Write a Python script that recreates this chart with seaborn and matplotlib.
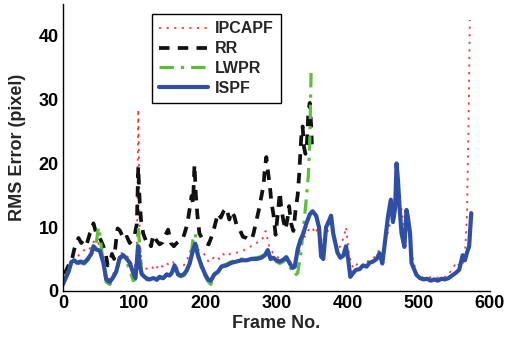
import matplotlib
matplotlib.use('Agg')
import matplotlib.pyplot as plt
import seaborn as sns

# Data (frame number, RMS error in pixels)
ispf_x = [0, 4, 8, 12, 16, 20, 25, 30, 35, 40, 43, 47, 52, 57, 61, 66, 70, 75, 80, 85,
          90, 94, 99, 102, 106, 108, 111, 117, 122, 127, 132, 136, 141, 146, 150, 153, 157, 162, 166, 170,
          174, 178, 183, 186, 190, 195, 200, 204, 208, 213, 218, 223, 230, 237, 244, 251, 258, 265, 272, 279,
          284, 288, 292, 296, 300, 305, 310, 314, 319, 323, 326, 330, 334, 338, 342, 347, 351, 356, 360, 363,
          366, 370, 374, 377, 380, 383, 386, 390, 394, 398, 401, 404, 408, 412, 417, 422, 427, 431, 436, 441,
          445, 449, 452, 457, 461, 464, 467, 469, 471, 473, 476, 478, 480, 483, 485, 488, 490, 494, 497, 502,
          507, 512, 517, 522, 527, 532, 537, 542, 547, 552, 557, 562, 565, 568, 571, 574]
ispf_y = [1.0, 2.0, 3.0, 4.5, 4.8, 4.4, 4.6, 4.4, 5.0, 5.8, 7.0, 6.5, 6.3, 4.4, 1.8, 1.4, 2.0, 3.0, 5.2, 5.6,
          5.0, 4.4, 2.8, 2.0, 7.0, 4.0, 2.6, 2.0, 1.8, 2.0, 1.8, 2.2, 2.0, 2.6, 2.4, 2.8, 4.0, 2.6, 2.4, 2.6,
          3.2, 4.2, 6.4, 7.4, 5.5, 3.9, 2.6, 1.8, 1.6, 2.6, 3.0, 3.8, 4.0, 4.4, 4.6, 4.8, 4.8, 5.0, 5.0, 5.2,
          5.6, 6.4, 5.0, 5.2, 4.8, 4.6, 4.9, 5.3, 4.3, 3.6, 3.8, 6.5, 8.0, 9.0, 10.5, 12.0, 12.5, 11.8, 10.0, 5.4,
          5.0, 10.0, 11.0, 11.8, 9.0, 7.5, 6.0, 5.2, 5.5, 7.0, 5.0, 2.2, 2.8, 3.3, 3.4, 4.0, 3.8, 4.4, 4.6, 5.0,
          5.9, 4.3, 7.0, 11.7, 14.3, 10.8, 13.0, 20.0, 17.4, 13.5, 9.0, 8.0, 6.9, 12.7, 11.5, 9.0, 4.4, 3.3, 2.5, 2.0,
          1.8, 1.9, 1.6, 1.8, 1.6, 1.9, 1.8, 2.0, 2.4, 2.8, 3.3, 5.6, 4.8, 6.0, 7.0, 12.2]

ipcapf_x = [0, 5, 10, 15, 20, 25, 30, 35, 40, 45, 50, 55, 60, 65, 70, 75, 80, 85, 90, 95,
            100, 104, 106, 107, 108, 111, 115, 120, 125, 130, 135, 140, 145, 150, 155, 160, 165, 170, 175, 180,
            185, 190, 195, 200, 205, 210, 215, 220, 225, 230, 235, 240, 245, 250, 255, 260, 265, 270, 275, 280,
            285, 290, 295, 300, 305, 310, 315, 320, 325, 330, 335, 340, 345, 350, 355, 360, 365, 370, 375, 380,
            385, 390, 395, 398, 402, 406, 410, 415, 420, 425, 430, 435, 440, 445, 450, 455, 460, 465, 469, 473,
            477, 481, 485, 488, 492, 497, 502, 510, 520, 530, 540, 548, 553, 558, 562, 565, 568, 570, 572]
ipcapf_y = [1.5, 3.0, 4.0, 5.0, 5.2, 6.0, 6.4, 6.2, 7.0, 8.0, 7.5, 6.0, 2.5, 1.8, 2.5, 3.5, 5.8, 6.0, 5.5, 4.8,
            3.0, 6.0, 28.5, 20.0, 8.0, 4.0, 3.6, 3.4, 3.8, 3.2, 4.2, 3.8, 4.4, 4.0, 4.5, 3.5, 3.8, 4.0, 5.0, 6.5,
            8.0, 6.5, 6.2, 5.6, 4.5, 5.0, 5.5, 5.0, 5.8, 5.4, 5.8, 6.0, 6.0, 6.2, 6.4, 6.8, 7.0, 7.2, 7.8, 8.0,
            9.4, 7.0, 6.0, 5.5, 5.0, 5.0, 5.2, 4.5, 3.8, 5.5, 7.0, 8.5, 9.5, 10.0, 9.0, 10.5, 7.0, 8.5, 10.5, 9.0,
            6.5, 7.0, 8.5, 10.0, 6.0, 4.0, 3.5, 4.5, 4.0, 4.2, 4.8, 5.0, 5.5, 6.5, 6.5, 8.5, 10.5, 12.5, 18.0, 15.0,
            12.0, 9.0, 11.0, 8.0, 5.0, 2.8, 2.2, 2.0, 2.2, 2.0, 2.3, 3.5, 4.5, 3.8, 4.2, 5.5, 12.0, 25.0, 42.5]

rr_x = [0, 4, 8, 12, 16, 19, 22, 26, 30, 34, 38, 41, 43, 47, 51, 56, 60, 63, 66, 69,
        72, 75, 77, 80, 83, 87, 90, 94, 97, 101, 104, 106, 108, 110, 113, 117, 120, 124, 127, 131,
        136, 140, 143, 148, 152, 156, 160, 164, 168, 171, 175, 178, 181, 183, 185, 187, 189, 192, 197, 201,
        205, 209, 213, 218, 222, 226, 230, 234, 237, 241, 245, 249, 253, 258, 262, 265, 268, 272, 276, 279,
        282, 284, 286, 288, 291, 293, 296, 299, 302, 305, 307, 310, 313, 316, 318, 321, 324, 327, 330, 332,
        335, 337, 339, 341, 343, 345, 347, 349, 350]
rr_y = [2.8, 3.0, 4.0, 4.5, 6.5, 7.5, 8.3, 7.5, 8.2, 7.5, 9.0, 9.5, 10.6, 9.0, 8.5, 7.3, 6.0, 4.0, 4.2, 5.8,
        5.0, 8.0, 9.8, 9.5, 8.8, 8.0, 8.5, 7.5, 8.0, 8.8, 10.5, 19.5, 14.0, 11.0, 9.0, 7.8, 8.0, 7.0, 8.8, 8.0,
        7.3, 7.6, 8.5, 9.6, 7.5, 7.0, 7.5, 7.8, 8.0, 9.0, 10.5, 12.7, 14.9, 13.8, 19.8, 14.9, 12.0, 9.0, 8.0, 7.5,
        7.3, 8.5, 10.0, 12.2, 11.5, 12.5, 13.0, 11.2, 12.5, 11.7, 10.0, 9.5, 8.5, 8.3, 8.0, 8.0, 9.0, 11.0, 13.0, 14.8,
        16.5, 19.3, 21.0, 19.0, 16.4, 14.0, 12.0, 8.8, 12.0, 15.5, 13.0, 11.0, 9.6, 11.5, 13.3, 10.5, 9.4, 12.6, 15.0, 18.0,
        24.0, 25.8, 22.5, 21.5, 23.0, 28.0, 29.5, 26.0, 23.0]

lwpr_x = [0, 4, 8, 12, 16, 20, 25, 30, 35, 40, 43, 47, 50, 52, 55, 57, 61, 66, 70, 75,
          80, 85, 90, 94, 99, 102, 104, 106, 108, 111, 117, 122, 127, 132, 136, 141, 146, 150, 153, 157,
          162, 166, 170, 174, 178, 183, 186, 190, 195, 200, 204, 208, 213, 218, 223, 230, 237, 244, 251, 258,
          265, 272, 279, 284, 288, 292, 296, 300, 305, 310, 314, 319, 323, 326, 330, 334, 338, 342, 345, 347,
          348, 349]
lwpr_y = [1.0, 2.2, 3.2, 4.6, 4.5, 4.2, 4.4, 4.2, 4.8, 5.6, 6.8, 7.5, 10.0, 9.0, 6.0, 4.2, 1.4, 1.0, 1.6, 3.0,
          5.0, 5.4, 4.5, 3.2, 1.6, 1.8, 5.0, 10.0, 7.0, 2.5, 1.8, 1.6, 1.8, 1.6, 2.0, 1.9, 2.4, 2.3, 2.6, 3.5,
          2.4, 2.2, 2.4, 3.0, 4.0, 8.0, 9.0, 5.8, 3.6, 2.3, 1.5, 1.0, 2.4, 3.2, 3.9, 4.2, 4.6, 4.8, 5.0, 5.0,
          5.1, 5.2, 5.4, 5.8, 6.0, 5.0, 5.0, 4.6, 4.3, 4.6, 5.0, 3.8, 3.0, 2.4, 2.8, 5.5, 9.6, 14.3, 18.0, 23.2,
          29.0, 35.2]

x_ticks = [0, 100, 200, 300, 400, 500, 600]
y_ticks = [0, 10, 20, 30, 40]

sns.set_style('white')
plt.rcParams['font.family'] = ['Liberation Sans', 'DejaVu Sans']
plt.rcParams['font.weight'] = 'bold'

fig = plt.figure(figsize=(5.15, 3.43), dpi=100)
ax = fig.add_axes([0.122, 0.152, 0.829, 0.836])

sns.lineplot(x=ipcapf_x, y=ipcapf_y, ax=ax, color='#f03a3a', lw=1.3,
             linestyle=(0, (1.2, 3.0)), label='IPCAPF', sort=False, estimator=None)
sns.lineplot(x=rr_x, y=rr_y, ax=ax, color='#111111', lw=2.7,
             linestyle=(0, (2.8, 2.2)), label='RR', sort=False, estimator=None)
sns.lineplot(x=lwpr_x, y=lwpr_y, ax=ax, color='#5cbf3a', lw=2.3,
             linestyle=(0, (4.5, 2.2, 1.0, 2.2)), label='LWPR', sort=False, estimator=None)
sns.lineplot(x=ispf_x, y=ispf_y, ax=ax, color='#2f4fa5', lw=3.0,
             label='ISPF', sort=False, estimator=None)

ax.set_xlim(0, 600)
ax.set_ylim(0, 45)
ax.set_xticks(x_ticks)
ax.set_yticks(y_ticks)
ax.set_xlabel('Frame No.', fontsize=13, fontweight='bold', labelpad=2)
ax.set_ylabel('RMS Error (pixel)', fontsize=13, fontweight='bold', labelpad=9)
ax.tick_params(direction='in', length=4, width=1, labelsize=13, pad=3, colors='black')
for t in ax.get_xticklabels() + ax.get_yticklabels():
    t.set_fontweight('bold')

sns.despine(ax=ax)
for s in ['left', 'bottom']:
    ax.spines[s].set_color('black')
    ax.spines[s].set_linewidth(1)

leg = ax.legend(loc='upper left', bbox_to_anchor=(0.208, 0.965), borderaxespad=0,
                fancybox=False, edgecolor='black', framealpha=1,
                handlelength=3.1, handletextpad=0.4, labelspacing=0.3,
                borderpad=0.45, prop={'weight': 'bold', 'size': 11.5})
leg.get_frame().set_linewidth(1)

fig.savefig('out.png', dpi=100)
